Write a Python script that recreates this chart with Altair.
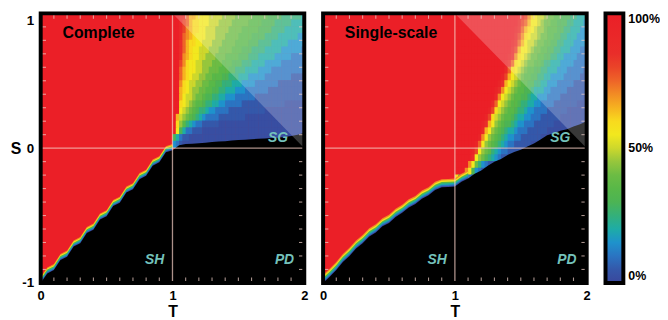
import altair as alt
import pandas as pd

FONT = "Liberation Sans"
RED = "#eb1f27"
TEAL = "#74c2bb"

# ---- axes -------------------------------------------------------------
T_RANGE = [0.0, 2.0]
S_RANGE = [-1.0, 1.0]
T_LABELS = [0, 1, 2]
S_LABELS = [-1, 0, 1]
T_MINOR = [0.1, 0.2, 0.3, 0.4, 0.5, 0.6, 0.7, 0.8, 0.9, 1.1, 1.2, 1.3, 1.4, 1.5, 1.6, 1.7, 1.8, 1.9]
S_MINOR = [-0.9, -0.8, -0.7, -0.6, -0.5, -0.4, -0.3, -0.2, -0.1, 0.1, 0.2, 0.3, 0.4, 0.5, 0.6, 0.7, 0.8, 0.9]
GRID_T = [1.0]
GRID_S = [0.0]
LEGEND_VALUES = [0, 0.5, 1]

# ---- colour bar -------------------------------------------------------
COLOR_STOPS = [0.0, 0.05, 0.10, 0.15, 0.20, 0.25, 0.30, 0.35, 0.40, 0.45, 0.50,
               0.55, 0.60, 0.65, 0.70, 0.75, 0.80, 0.85, 1.0]
COLOR_HEX = ["#3a479c", "#3458aa", "#2a74c2", "#1e92cc", "#1eaca6", "#34b07a",
             "#4cb454", "#58b848", "#6cbc44", "#96c63c", "#cdd82c", "#f2e81e",
             "#f8da1e", "#f6b220", "#f28c24", "#ee6428", "#ea4428", "#e92e2a", RED]

# ---- cooperation level grid (codes) -----------------------------------
LEVEL_CODES = "0123456789abcdefghijR"
LEVEL_VALUES = [0.02, 0.05, 0.10, 0.15, 0.20, 0.25, 0.30, 0.35, 0.40, 0.45, 0.50,
                0.55, 0.60, 0.65, 0.70, 0.75, 0.80, 0.85, 0.90, 0.95, 1.0]
CELL_T, CELL_S = 0.025, 0.05

COMPLETE_GRID_LEFT, COMPLETE_GRID_TOP = 1.0, 1.0
COMPLETE_ROWS = [
    "RRihfddcbbbaaaa9999888887777766665555554",
    "RRigfdccbbbaaa99998888877776666555554444",
    "RRigedccbbaaa999988887777766665555444444",
    "RRifedcbbbaaa999888877776666555544444433",
    "RRhfdccbbaaa9998888777766655554444433333",
    "RRhfdcbbaaa99988887776665555444443333332",
    "RRhedcbbaa999888777766655544444333332222",
    "RRgecbbaa9998887776665554444333332222222",
    "RRfdcbbaa9988877766555444433332222222222",
    "RRfdcbaa99887776655544433333222222221111",
    "RRecbaa998877665554443333222222211111111",
    "RRdcba9988776655444333222222211111111111",
    "RRdbaa9887665544333222222111111111111111",
    "RRcba98776554433222221111111111111000000",
    "RRba987655433222211111111111000000000000",
    "Rda9876543222211111111000000000000000000",
    "Rc97543221111100000000000000000000000000",
    "Rb64221110000000000000000000000000000000",
    "6421100000000000000000000000000000000000",
    "3210000000000000000000000000000000000000",
]

SINGLE_GRID_LEFT, SINGLE_GRID_TOP = 1.0, 1.0
SINGLE_ROWS = [
    "RRRRRRRRRRRRRRRRRRRjhgecbaa9887766655444",
    "RRRRRRRRRRRRRRRRRRRigfdbba98877666554443",
    "RRRRRRRRRRRRRRRRRRjhfdcba998777665544433",
    "RRRRRRRRRRRRRRRRRRigecbaa988776655444333",
    "RRRRRRRRRRRRRRRRRjhfdbaa9887766554443333",
    "RRRRRRRRRRRRRRRRRigdbba98877665544433322",
    "RRRRRRRRRRRRRRRRjhecba988776655443333222",
    "RRRRRRRRRRRRRRRjhfcba9887765544433332222",
    "RRRRRRRRRRRRRRRifcba98776655444333222221",
    "RRRRRRRRRRRRRRjgdba987766554433332222211",
    "RRRRRRRRRRRRRjhdba9877665544333222221111",
    "RRRRRRRRRRRRjheba98776654443322222111111",
    "RRRRRRRRRRRRieba987766544333222211111110",
    "RRRRRRRRRRRifba9877655443322221111111000",
    "RRRRRRRRRRjgca98776554332222111111000000",
    "RRRRRRRRRjgca987765443322211111100000000",
    "RRRRRRRRjhdb9876654332221111110000000000",
    "RRRRRRRRidb98765443222111111000000000000",
    "RRRRRRRjeb987654332211111100000000000000",
    "RRRRRRjfb9876543221111100000000000000000",
    "RRRRRjgb98754322111110000000000000000000",
    "RRRRRib98654321111100000000000000000000",
    "RRRReb8532110000000000000000000000000000",
    "RRReb63210000000000000000000000000000000",
    "c853210000000000000000000000000000000000",
    "3210000000000000000000000000000000000000",
]

# ---- edge of the all-defection (black) region --------------------------
EDGE_T = [0.0, 0.05, 0.1, 0.15, 0.2, 0.25, 0.3, 0.35, 0.4, 0.45, 0.5, 0.55, 0.6, 0.65,
          0.7, 0.75, 0.8, 0.85, 0.9, 0.95, 1.0, 1.05, 1.1, 1.15, 1.2, 1.25, 1.3, 1.35,
          1.4, 1.45, 1.5, 1.55, 1.6, 1.65, 1.7, 1.75, 1.8, 1.85, 1.9, 1.95, 2.0]
COMPLETE_EDGE_S = [-1.0, -0.93, -0.905, -0.83, -0.805, -0.73, -0.705, -0.63, -0.605, -0.53,
                   -0.505, -0.43, -0.405, -0.33, -0.305, -0.23, -0.205, -0.13, -0.105, -0.03,
                   -0.015, 0.022, 0.03, 0.033, 0.037, 0.041, 0.045, 0.049, 0.052, 0.056,
                   0.06, 0.063, 0.066, 0.069, 0.072, 0.075, 0.078, 0.083, 0.09, 0.10, 0.115]
SINGLE_EDGE_S = [-1.0, -0.955, -0.905, -0.845, -0.80, -0.745, -0.705, -0.655, -0.625, -0.58,
                 -0.555, -0.51, -0.48, -0.44, -0.415, -0.375, -0.35, -0.31, -0.29, -0.288,
                 -0.285, -0.25, -0.225, -0.19, -0.165, -0.13, -0.10, -0.08, -0.05, -0.028,
                 -0.012, 0.012, 0.035, 0.065, 0.095, 0.11, 0.13, 0.14, 0.16, 0.178, 0.20]
COMPLETE_STRIP_TMAX, COMPLETE_STRIP_WIDTH = 1.0, 0.045
SINGLE_STRIP_TMAX, SINGLE_STRIP_WIDTH = 1.1, 0.06
STRIP_FRACTIONS = [1.0, 0.82, 0.64, 0.46, 0.28, 0.12]
STRIP_COLORS = ["#f28c24", "#f6e21e", "#58b848", "#1eaca6", "#2a74c2", "#3a479c"]

# region where T + S > 2 is lightened
OVERLAY_T = [1.0, 2.0]

# ---- text --------------------------------------------------------------
PANEL_TITLES = ["Complete", "Single-scale"]
TITLE_T, TITLE_S = 0.165, 0.815
REGION_NAMES = ["SH", "PD", "SG"]
REGION_T = [0.865, 1.85, 1.80]
REGION_S = [-0.83, -0.83, 0.077]

PANEL_W, PANEL_H = 266, 272
TICK_T, TICK_S = 0.04, 0.04

cscale = alt.Scale(domain=COLOR_STOPS, range=COLOR_HEX, interpolate="rgb", clamp=True)
legend = alt.Legend(
    type="gradient", title=None, orient="none", legendX=570, legendY=0, direction="vertical",
    gradientLength=PANEL_H, gradientThickness=18, gradientStrokeColor="black",
    gradientStrokeWidth=4, values=LEGEND_VALUES, format=".0%",
    labelFontSize=12.5, labelFontWeight="bold", labelColor="black", labelFont=FONT,
    labelOffset=5, labelBaseline="middle",
)


def grid_cells(rows, t_left, s_top):
    recs = []
    for j, row in enumerate(rows):
        for i, ch in enumerate(row):
            v = LEVEL_VALUES[LEVEL_CODES.index(ch)]
            t0 = t_left + i * CELL_T
            s1 = s_top - j * CELL_S
            recs.append({"T0": t0, "T1": t0 + CELL_T, "S0": s1 - CELL_S, "S1": s1, "v": v})
    return pd.DataFrame(recs)


def make_panel(title, rows, t_left, s_top, edge_s, strip_tmax, strip_w, show_y):
    xs = alt.Scale(domain=T_RANGE, nice=False, zero=False)
    ys = alt.Scale(domain=S_RANGE, nice=False, zero=False)
    x_axis = alt.Axis(values=T_LABELS, title="T", labelFlush=False, labelFontSize=13,
                      labelFontWeight="bold", labelColor="black", labelPadding=7,
                      labelExpr="'' + datum.value",
                      titleFontSize=16, titleFontWeight="bold", titleColor="black",
                      titleBaseline="top", titleY=21,
                      domain=False, ticks=False, tickSize=0, grid=False)
    if show_y:
        y_axis = alt.Axis(values=S_LABELS, title="S", titleAngle=0, titleAlign="right",
                          titleBaseline="middle", titleX=-20, titleY=PANEL_H / 2,
                          titleFontSize=16, titleFontWeight="bold", titleColor="black",
                          labelFontSize=13.5, labelFontWeight="bold", labelColor="black",
                          labelPadding=7, labelExpr="'' + datum.value",
                          labelBaseline={"condition": {"test": "datum.value == 1", "value": "top"},
                                         "value": "middle"},
                          domain=False, ticks=False, tickSize=0, grid=False)
    else:
        y_axis = None

    def X(f):
        return alt.X(f, type="quantitative", scale=xs, axis=x_axis)

    def Y(f):
        return alt.Y(f, type="quantitative", scale=ys, axis=y_axis)

    frame_df = pd.DataFrame({"T0": [T_RANGE[0]], "T1": [T_RANGE[1]],
                             "S0": [S_RANGE[0]], "S1": [S_RANGE[1]]})
    bg = alt.Chart(frame_df).mark_rect(color=RED).encode(
        x=X("T0"), x2="T1", y=Y("S0"), y2="S1")

    cells_df = grid_cells(rows, t_left, s_top)
    cells = alt.Chart(cells_df).mark_rect(x2Offset=0.6, y2Offset=-0.6).encode(
        x=X("T0"), x2="T1", y=Y("S0"), y2="S1",
        color=alt.Color("v:Q", scale=cscale, legend=legend))

    edge = pd.DataFrame({"T": EDGE_T, "Sb": edge_s})
    edge["bottom"] = S_RANGE[0]
    for k, f in enumerate(STRIP_FRACTIONS):
        edge[f"top{k}"] = edge["Sb"] + f * strip_w
    strip_df = edge[edge["T"] <= strip_tmax + 1e-9]
    strips = [
        alt.Chart(strip_df).mark_area(color=c).encode(x=X("T"), y=Y(f"top{k}"), y2="bottom")
        for k, c in enumerate(STRIP_COLORS)
    ]
    black = alt.Chart(edge).mark_area(color="black").encode(x=X("T"), y=Y("Sb"), y2="bottom")

    ov_df = pd.DataFrame({"T": OVERLAY_T, "S": [2.0 - t for t in OVERLAY_T],
                          "top": [S_RANGE[1]] * len(OVERLAY_T)})
    overlay = alt.Chart(ov_df).mark_area(color="white", opacity=0.22).encode(
        x=X("T"), y=Y("S"), y2="top")

    gv_df = pd.DataFrame({"T": GRID_T, "S0": S_RANGE[0], "S1": S_RANGE[1]})
    gh_df = pd.DataFrame({"S": GRID_S, "T0": T_RANGE[0], "T1": T_RANGE[1]})
    grid_v = alt.Chart(gv_df).mark_rule(color="#f5cfc4", opacity=0.7, strokeWidth=1.3).encode(
        x=X("T"), y=Y("S0"), y2="S1")
    grid_h = alt.Chart(gh_df).mark_rule(color="#f5cfc4", opacity=0.7, strokeWidth=1.3).encode(
        x=X("T0"), x2="T1", y=Y("S"))

    tv = pd.concat([
        pd.DataFrame({"T": T_MINOR, "S0": S_RANGE[0], "S1": S_RANGE[0] + TICK_S}),
        pd.DataFrame({"T": T_MINOR, "S0": S_RANGE[1], "S1": S_RANGE[1] - TICK_S}),
    ])
    th = pd.concat([
        pd.DataFrame({"S": S_MINOR, "T0": T_RANGE[0], "T1": T_RANGE[0] + TICK_T}),
        pd.DataFrame({"S": S_MINOR, "T0": T_RANGE[1], "T1": T_RANGE[1] - TICK_T}),
    ])
    ticks_v = alt.Chart(tv).mark_rule(color="#f0d0c8", opacity=0.7, strokeWidth=1.1).encode(
        x=X("T"), y=Y("S0"), y2="S1")
    ticks_h = alt.Chart(th).mark_rule(color="#f0d0c8", opacity=0.7, strokeWidth=1.1).encode(
        x=X("T0"), x2="T1", y=Y("S"))

    frame = alt.Chart(frame_df).mark_rect(fillOpacity=0, stroke="black", strokeWidth=4).encode(
        x=X("T0"), x2="T1", y=Y("S0"), y2="S1")

    title_df = pd.DataFrame({"T": [TITLE_T], "S": [TITLE_S], "label": [title]})
    title_txt = alt.Chart(title_df).mark_text(
        align="left", baseline="alphabetic", fontSize=16, fontWeight="bold",
        color="black", font=FONT).encode(x=X("T"), y=Y("S"), text="label:N")

    reg_df = pd.DataFrame({"T": REGION_T, "S": REGION_S, "label": REGION_NAMES})
    reg_txt = alt.Chart(reg_df).mark_text(
        align="center", baseline="middle", fontSize=14, fontWeight="bold",
        fontStyle="italic", color=TEAL, font=FONT).encode(x=X("T"), y=Y("S"), text="label:N")

    return alt.layer(bg, cells, *strips, black, overlay, grid_v, grid_h,
                     ticks_v, ticks_h, frame, title_txt, reg_txt).properties(
        width=PANEL_W, height=PANEL_H)


p1 = make_panel(PANEL_TITLES[0], COMPLETE_ROWS, COMPLETE_GRID_LEFT, COMPLETE_GRID_TOP,
                COMPLETE_EDGE_S, COMPLETE_STRIP_TMAX, COMPLETE_STRIP_WIDTH, True)
p2 = make_panel(PANEL_TITLES[1], SINGLE_ROWS, SINGLE_GRID_LEFT, SINGLE_GRID_TOP,
                SINGLE_EDGE_S, SINGLE_STRIP_TMAX, SINGLE_STRIP_WIDTH, False)

chart = alt.hconcat(
    p1, p2, spacing=19, bounds="flush",
    padding={"left": 2, "top": 2, "right": 0, "bottom": 0},
).resolve_scale(color="shared").configure(
    font=FONT
).configure_view(strokeWidth=0)

chart.save("out.html", embed_options={"renderer": "svg", "actions": False})
